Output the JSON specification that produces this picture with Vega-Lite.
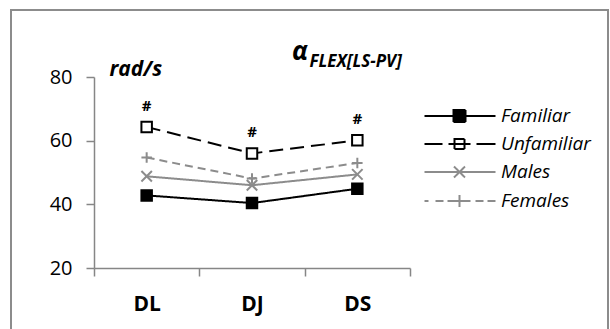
{
  "$schema": "https://vega.github.io/schema/vega-lite/v6.json",
  "width": 597,
  "height": 330,
  "autosize": {"type": "none"},
  "padding": {"left": 11, "top": 10, "right": 2, "bottom": 0},
  "background": "white",
  "config": {
    "font": "Open Sans",
    "view": {"stroke": "#8c8c8c", "strokeWidth": 2},
    "axis": {
      "grid": false,
      "domainColor": "#868686",
      "domainWidth": 1.5,
      "tickColor": "#868686",
      "tickWidth": 1.5,
      "tickSize": 8,
      "labelColor": "black",
      "labelFont": "Open Sans"
    }
  },
  "title": {
    "text": "α",
    "anchor": "start",
    "frame": "group",
    "orient": "top",
    "baseline": "alphabetic",
    "offset": -76,
    "dx": 281,
    "font": "Open Sans",
    "fontSize": 26,
    "fontStyle": "italic",
    "fontWeight": "bold",
    "color": "black"
  },
  "data": {
    "values": [
      {"series": "Familiar", "cond": "DL", "value": 42.8, "note": ""},
      {"series": "Familiar", "cond": "DJ", "value": 40.4, "note": ""},
      {"series": "Familiar", "cond": "DS", "value": 44.9, "note": ""},
      {"series": "Unfamiliar", "cond": "DL", "value": 64.3, "note": "#"},
      {"series": "Unfamiliar", "cond": "DJ", "value": 56.0, "note": "#"},
      {"series": "Unfamiliar", "cond": "DS", "value": 60.1, "note": "#"},
      {"series": "Males", "cond": "DL", "value": 48.8, "note": ""},
      {"series": "Males", "cond": "DJ", "value": 46.0, "note": ""},
      {"series": "Males", "cond": "DS", "value": 49.4, "note": ""},
      {"series": "Females", "cond": "DL", "value": 54.7, "note": ""},
      {"series": "Females", "cond": "DJ", "value": 48.1, "note": ""},
      {"series": "Females", "cond": "DS", "value": 53.0, "note": ""}
    ]
  },
  "encoding": {
    "x": {
      "field": "cond",
      "type": "nominal",
      "sort": ["DL", "DJ", "DS"],
      "scale": {"type": "band", "range": [83, 399], "paddingInner": 0, "paddingOuter": 0},
      "axis": {
        "title": "FLEX[LS-PV]",
        "titleAnchor": "start",
        "titleAlign": "left",
        "titleBaseline": "alphabetic",
        "titleX": 298,
        "titleY": -202,
        "titleFont": "Open Sans",
        "titleFontSize": 17,
        "titleFontStyle": "italic",
        "titleFontWeight": "bold",
        "titleColor": "black",
        "tickBand": "extent",
        "offset": -72,
        "labelAngle": 0,
        "labelFontSize": 21,
        "labelFontWeight": "bold",
        "labelPadding": 17
      }
    },
    "y": {
      "field": "value",
      "type": "quantitative",
      "scale": {"domain": [20, 80], "range": [258, 67], "nice": false, "zero": false},
      "axis": {
        "values": [20, 40, 60, 80],
        "offset": -83,
        "title": "rad/s",
        "titleAngle": 0,
        "titleAlign": "left",
        "titleBaseline": "alphabetic",
        "titleX": 15,
        "titleY": 65,
        "titleFont": "Open Sans",
        "titleFontSize": 21,
        "titleFontStyle": "italic",
        "titleFontWeight": "bold",
        "titleColor": "black",
        "labelFontSize": 20,
        "labelPadding": 14
      }
    }
  },
  "layer": [
    {
      "mark": {"type": "line", "strokeWidth": 2},
      "encoding": {
        "color": {
          "field": "series",
          "type": "nominal",
          "scale": {"domain": ["Familiar", "Unfamiliar", "Males", "Females"], "range": ["black", "black", "#8c8c8c", "#8c8c8c"]},
          "legend": {
            "orient": "none",
            "legendX": 413,
            "legendY": 96.5,
            "title": null,
            "padding": 0,
            "rowPadding": 8,
            "labelOffset": 58,
            "labelFont": "Open Sans",
            "labelFontSize": 19,
            "labelFontStyle": "italic",
            "labelColor": "black",
            "symbolSize": 100,
            "symbolStrokeWidth": 2,
            "symbolOpacity": 1,
            "symbolDash": [1, 0],
            "symbolType": {"expr": "datum.value === 'Familiar' ? 'M-1.8,0H12.4M4,-1.2H6.4V1.2H4ZM4,-0.8H6.4M4,-0.4H6.4M4,0.4H6.4M4,0.8H6.4' : datum.value === 'Unfamiliar' ? 'M-1.8,0H1.8M3,0H7.4M8.6,0H12.4M4.2,-1H6.2V1H4.2Z' : datum.value === 'Males' ? 'M-1.8,0H12.4M4.1,-1.1L6.3,1.1M4.1,1.1L6.3,-1.1' : 'M-1.8,0H-1M0.4,0H2M2.8,0H7.4M8.4,0H10M10.8,0H12.4M5.2,-1.2V1.2'"}
          }
        },
        "strokeDash": {
          "field": "series",
          "type": "nominal",
          "sort": ["Familiar", "Unfamiliar", "Males", "Females"],
          "scale": {"range": [[1, 0], [14, 7], [1, 0], [8, 5]]},
          "legend": null
        }
      }
    },
    {
      "mark": {"type": "point", "strokeWidth": 2, "size": 110, "opacity": 1},
      "encoding": {
        "shape": {
          "field": "series",
          "type": "nominal",
          "sort": ["Familiar", "Unfamiliar", "Males", "Females"],
          "scale": {"range": ["square", "square", "M-1,-1L1,1M-1,1L1,-1", "M-1,0H1M0,-1V1"]},
          "legend": null
        },
        "fill": {
          "field": "series",
          "type": "nominal",
          "sort": ["Familiar", "Unfamiliar", "Males", "Females"],
          "scale": {"range": ["black", "white", "transparent", "transparent"]},
          "legend": null
        },
        "stroke": {
          "field": "series",
          "type": "nominal",
          "sort": ["Familiar", "Unfamiliar", "Males", "Females"],
          "scale": {"range": ["black", "black", "#8c8c8c", "#8c8c8c"]},
          "legend": null
        }
      }
    },
    {
      "transform": [{"filter": "datum.note === '#'"}],
      "mark": {"type": "text", "dy": -21, "fontWeight": "bold", "fontSize": 15, "color": "black", "baseline": "middle"},
      "encoding": {
        "text": {"field": "note", "type": "nominal"}
      }
    }
  ]
}
